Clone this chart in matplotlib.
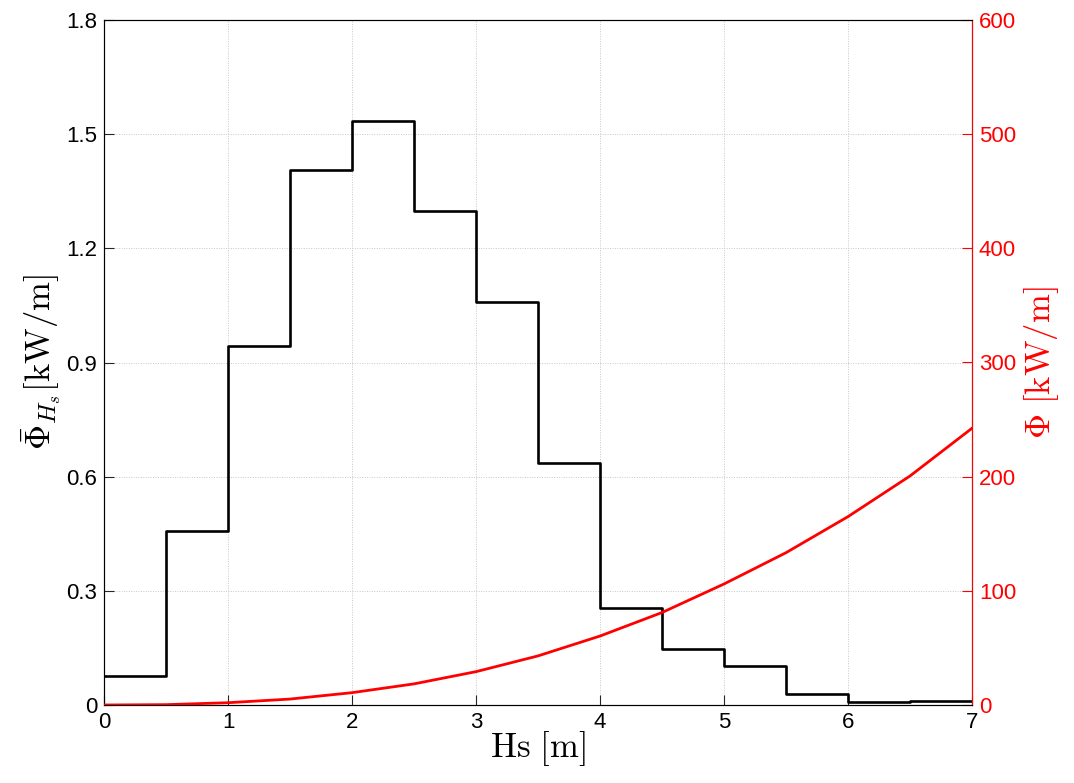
import numpy as np
import matplotlib.pyplot as plt

plt.rcParams['mathtext.fontset'] = 'cm'
plt.rcParams['font.family'] = ['Liberation Sans', 'DejaVu Sans']

# Hs bin edges [m] and mean power per bin (left axis)
hs_edges = [0, 0.5, 1, 1.5, 2, 2.5, 3, 3.5, 4, 4.5, 5, 5.5, 6, 6.5, 7]
phi_bar = [0.075, 0.457, 0.943, 1.406, 1.535, 1.297, 1.059, 0.637, 0.256,
           0.147, 0.102, 0.029, 0.008, 0.010]

# wave power vs Hs (right axis)
hs = [0, 0.5, 1, 1.5, 2, 2.5, 3, 3.5, 4, 4.5, 5, 5.5, 6, 6.5, 7]
phi = [0, 0.3, 2.0, 5.2, 10.8, 18.5, 29.2, 43.0, 60.4, 81.0, 106.0, 133.4,
       165.0, 200.6, 242.4]

fig = plt.figure(figsize=(10.74, 7.83), dpi=100)
ax = fig.add_axes([104/1074, 1-705/783, (972-104)/1074, (705-20)/783])

ax.step(hs_edges, phi_bar + [phi_bar[-1]], where='post', color='black', lw=1.9, zorder=3)
ax.set_xlim(0, 7)
ax.set_ylim(0, 1.8)
ax.set_xticks(np.arange(0, 8, 1))
ax.set_yticks(np.arange(0, 1.81, 0.3))
ax.set_yticklabels(['0', '0.3', '0.6', '0.9', '1.2', '1.5', '1.8'])
ax.grid(True, linestyle=(0, (1, 1.5)), color='#c8c8c8', lw=0.7)
ax.tick_params(direction='in', length=7, labelsize=16, colors='#262626', labelcolor='black', pad=5)
ax.set_xlabel(r'$\mathrm{Hs\ [m]}$', fontsize=25, labelpad=-3)
ax.set_ylabel(r'$\bar{\Phi}_{H_s}[\mathrm{kW/m}]$', fontsize=25, labelpad=2)
for s in ['left', 'bottom', 'top']:
    ax.spines[s].set_color('#262626')

ax2 = ax.twinx()
ax2.plot(hs, phi, color='red', lw=2.0, zorder=4)
ax2.set_ylim(0, 600)
ax2.set_yticks(np.arange(0, 601, 100))
ax2.tick_params(direction='in', length=7, labelsize=16, colors='red', pad=5)
ax2.spines['right'].set_color('red')
ax2.set_ylabel(r'$\Phi\ [\mathrm{kW/m}]$', fontsize=25, color='red', labelpad=4)

fig.savefig('out.png', dpi=100)
